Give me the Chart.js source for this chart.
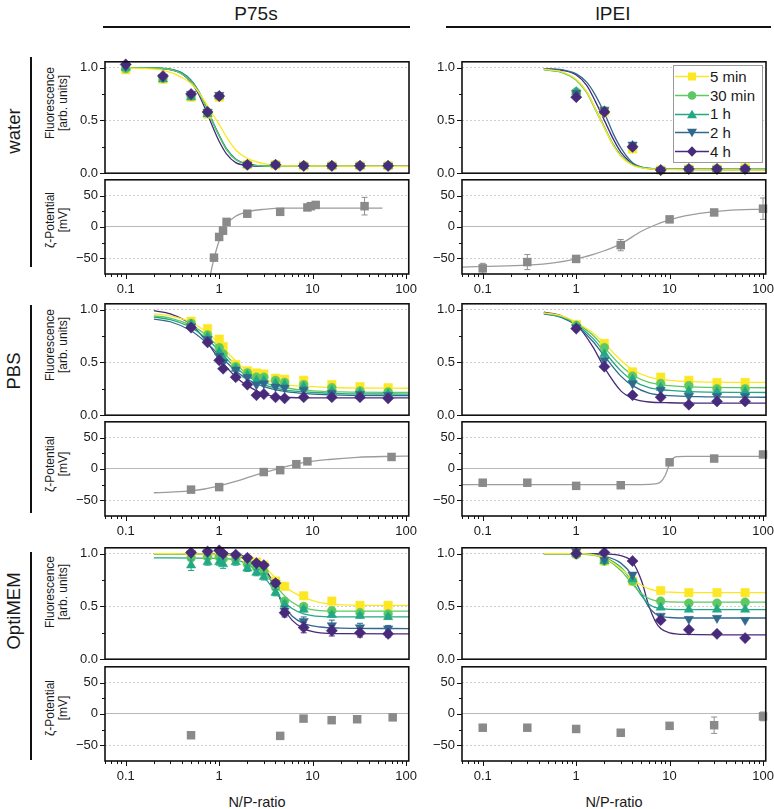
<!DOCTYPE html>
<html>
<head>
<meta charset="utf-8">
<title>Fluorescence and zeta potential vs N/P-ratio</title>
<script src="https://cdn.jsdelivr.net/npm/chart.js@4.4.1/dist/chart.umd.min.js"></script>
<style>
  html, body { margin: 0; padding: 0; background: #fff; }
  #fig { position: relative; width: 774px; height: 809px; overflow: hidden;
         font-family: "Liberation Sans", Arial, sans-serif; color: #1a1a1a; }
  #fig canvas { position: absolute; }
  .hdr { position: absolute; font-size: 19px; transform: translateX(-50%); white-space: nowrap; }
  .hline { position: absolute; height: 2px; background: #111; }
  .vline { position: absolute; width: 2px; background: #111; }
  .rot { position: absolute; transform: translate(-50%, -50%) rotate(-90deg); white-space: nowrap; text-align: center; }
  .rowlab { font-size: 18.5px; }
  .axlab { font-size: 12px; line-height: 13px; }
  .xlab { position: absolute; font-size: 14.5px; transform: translate(-50%, -50%); white-space: nowrap; }
  #legend { position: absolute; left: 673px; top: 65px; width: 88px; height: 95px;
            border: 1px solid #9a9a9a; background: #fff; z-index: 5; padding-top: 1px; box-sizing: content-box; }
  #legend .item { display: flex; align-items: center; height: 18.8px; font-size: 15px; }
  #legend svg { margin-left: 1px; margin-right: 1px; }
</style>
</head>
<body>
<div id="fig">
  <div class="hdr" style="left:256px; top:3px;">P75s</div>
  <div class="hdr" style="left:613px; top:3px;">lPEI</div>
  <div class="hline" style="left:103px; top:26px; width:307px;"></div>
  <div class="hline" style="left:446px; top:26px; width:325px;"></div>

  <div class="vline" style="left:30px; top:57px; height:210px;"></div>
  <div class="vline" style="left:30px; top:305px; height:208px;"></div>
  <div class="vline" style="left:30px; top:552px; height:208px;"></div>
  <div class="rot rowlab" style="left:14px; top:131px;">water</div>
  <div class="rot rowlab" style="left:14px; top:371px;">PBS</div>
  <div class="rot rowlab" style="left:14px; top:611px;">OptiMEM</div>

  <div class="rot axlab" style="left:57px; top:103px;">Fluorescence<br>[arb. units]</div>
  <div class="rot axlab" style="left:57px; top:345px;">Fluorescence<br>[arb. units]</div>
  <div class="rot axlab" style="left:57px; top:592px;">Fluorescence<br>[arb. units]</div>
  <div class="rot axlab" style="left:57px; top:220px;">&zeta;-Potential<br>[mV]</div>
  <div class="rot axlab" style="left:57px; top:464px;">&zeta;-Potential<br>[mV]</div>
  <div class="rot axlab" style="left:57px; top:708px;">&zeta;-Potential<br>[mV]</div>

  <div class="xlab" style="left:257px; top:802px;">N/P-ratio</div>
  <div class="xlab" style="left:614px; top:802px;">N/P-ratio</div>

  <div id="legend"></div>
</div>

<script>
// ---- series / axes ----
const seriesNames = ['5 min', '30 min', '1 h', '2 h', '4 h'];
const seriesColors = ['#fde725', '#5ec962', '#22a884', '#31688e', '#472a7a'];
const seriesShapes = ['rect', 'circle', 'triangle', 'triangle', 'rectRot'];
const seriesRotation = [0, 0, 0, 180, 0];
const seriesRadius = [6, 4.4, 5.4, 5.4, 5.6];
const zetaColor = '#8a8a8a';
const zetaFitColor = '#9c9c9c';

const xMin = 0.06;
const xMax = 107;
const xMajorTicks = [0.1, 1, 10, 100];
const fluorTicks = [0, 0.25, 0.5, 0.75, 1.0];
const fluorLabels = [0, 0.5, 1.0];
const zetaTicks = [-50, -25, 0, 25, 50];
const zetaLabels = [-50, 0, 50];

// ---- water, P75s ----
const waterP75sX = [0.1, 0.25, 0.5, 0.75, 1, 2, 4, 8, 16, 32, 64];
const waterP75s5min = [0.98, 0.89, 0.72, 0.56, 0.72, 0.08, 0.08, 0.07, 0.07, 0.07, 0.07];
const waterP75s30min = [0.99, 0.9, 0.73, 0.57, 0.73, 0.08, 0.08, 0.07, 0.07, 0.07, 0.07];
const waterP75s1h = [1.0, 0.89, 0.72, 0.56, 0.73, 0.08, 0.08, 0.07, 0.07, 0.07, 0.07];
const waterP75s2h = [1.01, 0.91, 0.75, 0.58, 0.74, 0.08, 0.08, 0.07, 0.07, 0.07, 0.07];
const waterP75s4h = [1.03, 0.92, 0.75, 0.58, 0.73, 0.08, 0.08, 0.07, 0.07, 0.07, 0.07];
const waterP75sFitX = [0.1, 0.2, 0.3, 0.4, 0.5, 0.6, 0.7, 0.85, 1, 1.2, 1.5, 2, 3, 5, 110];
const waterP75sFit5min = [0.995, 0.985, 0.955, 0.905, 0.85, 0.77, 0.68, 0.56, 0.46, 0.34, 0.22, 0.14, 0.09, 0.07, 0.065];
const waterP75sFit30min = [1.0, 0.995, 0.98, 0.94, 0.87, 0.77, 0.65, 0.48, 0.35, 0.22, 0.13, 0.085, 0.068, 0.065, 0.065];
const waterP75sFit1h = [1.0, 0.996, 0.982, 0.945, 0.875, 0.775, 0.655, 0.485, 0.355, 0.225, 0.13, 0.085, 0.068, 0.065, 0.065];
const waterP75sFit2h = [1.0, 0.997, 0.985, 0.95, 0.88, 0.78, 0.66, 0.49, 0.36, 0.23, 0.135, 0.085, 0.068, 0.065, 0.065];
const waterP75sFit4h = [1.0, 0.996, 0.98, 0.94, 0.86, 0.75, 0.62, 0.44, 0.3, 0.18, 0.1, 0.072, 0.065, 0.065, 0.065];
const waterP75sZetaX = [0.88, 1.0, 1.1, 1.2, 2, 4.5, 8.8, 9.6, 10.8, 36];
const waterP75sZeta = [-49, -16, -6, 8, 21, 24, 31, 33, 35, 33];
const waterP75sZetaErr = [0, 3, 6, 3, 2, 2, 2, 2, 2, 14];
const waterP75sZetaFitX = [0.8, 0.85, 0.9, 1.0, 1.1, 1.2, 1.5, 2, 3, 5, 10, 56];
const waterP75sZetaFit = [-78, -60, -45, -22, -7, 4, 17, 24, 28, 30, 30, 30];

// ---- water, lPEI ----
const waterPEIX = [1, 2, 4, 8, 16, 32, 64];
const waterPEI5min = [0.75, 0.58, 0.23, 0.03, 0.04, 0.04, 0.05];
const waterPEI30min = [0.77, 0.59, 0.25, 0.03, 0.04, 0.04, 0.04];
const waterPEI1h = [0.77, 0.59, 0.26, 0.03, 0.04, 0.04, 0.04];
const waterPEI2h = [0.76, 0.6, 0.27, 0.03, 0.04, 0.04, 0.04];
const waterPEI4h = [0.72, 0.58, 0.25, 0.03, 0.04, 0.04, 0.04];
const waterPEIFitX = [0.45, 0.7, 1, 1.3, 1.6, 2, 2.5, 3, 4, 6, 10, 110];
const waterPEIFit5min = [0.985, 0.96, 0.89, 0.77, 0.61, 0.43, 0.26, 0.16, 0.075, 0.04, 0.033, 0.03];
const waterPEIFit30min = [0.98, 0.955, 0.88, 0.76, 0.6, 0.43, 0.26, 0.165, 0.08, 0.045, 0.037, 0.035];
const waterPEIFit1h = [0.98, 0.955, 0.885, 0.765, 0.61, 0.44, 0.27, 0.17, 0.08, 0.045, 0.037, 0.035];
const waterPEIFit2h = [0.99, 0.98, 0.94, 0.86, 0.74, 0.57, 0.37, 0.24, 0.1, 0.045, 0.037, 0.035];
const waterPEIFit4h = [0.99, 0.975, 0.93, 0.83, 0.68, 0.5, 0.32, 0.2, 0.09, 0.043, 0.037, 0.035];
const waterPEIZetaX = [0.1, 0.3, 1, 3, 10, 30, 100];
const waterPEIZeta = [-66, -56, -51, -29, 12, 23, 29];
const waterPEIZetaErr = [8, 12, 2, 9, 2, 2, 17];
const waterPEIZetaFitX = [0.06, 0.1, 0.3, 0.6, 1, 1.5, 2, 3, 5, 7, 10, 15, 20, 40, 110];
const waterPEIZetaFit = [-64, -63, -61, -57, -51, -44, -38, -27, -7, 3, 11, 18, 21, 26, 28.5];

// ---- PBS, P75s ----
const pbsP75sX = [0.5, 0.75, 1, 1.1, 1.5, 2, 2.5, 3, 4, 5, 8, 16, 32, 64];
const pbsP75s5min = [0.89, 0.82, 0.72, 0.65, 0.48, 0.42, 0.4, 0.39, 0.35, 0.34, 0.33, 0.29, 0.27, 0.26];
const pbsP75s30min = [0.87, 0.76, 0.64, 0.58, 0.46, 0.4, 0.36, 0.36, 0.33, 0.31, 0.29, 0.26, 0.23, 0.22];
const pbsP75s1h = [0.86, 0.74, 0.6, 0.54, 0.44, 0.38, 0.33, 0.33, 0.3, 0.29, 0.27, 0.23, 0.21, 0.2];
const pbsP75s2h = [0.84, 0.72, 0.56, 0.5, 0.43, 0.36, 0.29, 0.3, 0.27, 0.26, 0.24, 0.21, 0.2, 0.19];
const pbsP75s4h = [0.83, 0.69, 0.52, 0.44, 0.36, 0.29, 0.19, 0.2, 0.17, 0.16, 0.17, 0.17, 0.17, 0.16];
const pbsP75sFitX = [0.2, 0.3, 0.5, 0.7, 1, 1.3, 1.6, 2, 3, 5, 10, 20, 110];
const pbsP75sFit5min = [0.96, 0.94, 0.88, 0.8, 0.68, 0.57, 0.49, 0.42, 0.34, 0.29, 0.27, 0.26, 0.255];
const pbsP75sFit30min = [0.94, 0.92, 0.85, 0.77, 0.64, 0.53, 0.46, 0.39, 0.31, 0.26, 0.23, 0.22, 0.215];
const pbsP75sFit1h = [0.93, 0.905, 0.83, 0.74, 0.61, 0.5, 0.43, 0.37, 0.29, 0.24, 0.215, 0.205, 0.2];
const pbsP75sFit2h = [0.91, 0.885, 0.8, 0.7, 0.57, 0.47, 0.4, 0.34, 0.27, 0.225, 0.2, 0.19, 0.185];
const pbsP75sFit4h = [0.99, 0.96, 0.86, 0.72, 0.53, 0.42, 0.34, 0.28, 0.2, 0.17, 0.165, 0.165, 0.165];
const pbsP75sZetaX = [0.5, 1, 3, 4.5, 6.7, 8.8, 70];
const pbsP75sZeta = [-33, -29, -5, -2, 7.5, 12, 19];
const pbsP75sZetaErr = [2, 2, 2, 2, 2, 2, 2];
const pbsP75sZetaFitX = [0.2, 0.3, 0.5, 0.7, 1, 1.5, 2, 3, 5, 8, 15, 30, 70, 110];
const pbsP75sZetaFit = [-38, -37, -35, -32, -27, -20, -14, -6, 3, 10, 15, 18.5, 20, 20.5];

// ---- PBS, lPEI ----
const pbsPEIX = [1, 2, 4, 8, 16, 32, 64];
const pbsPEI5min = [0.86, 0.68, 0.41, 0.36, 0.33, 0.31, 0.31];
const pbsPEI30min = [0.85, 0.64, 0.37, 0.3, 0.28, 0.25, 0.25];
const pbsPEI1h = [0.84, 0.58, 0.34, 0.26, 0.23, 0.22, 0.22];
const pbsPEI2h = [0.83, 0.52, 0.3, 0.24, 0.18, 0.18, 0.18];
const pbsPEI4h = [0.82, 0.46, 0.19, 0.17, 0.1, 0.13, 0.13];
const pbsPEIFitX = [0.45, 0.7, 1, 1.5, 2, 3, 4, 6, 10, 20, 110];
const pbsPEIFit5min = [0.97, 0.94, 0.88, 0.78, 0.68, 0.52, 0.43, 0.36, 0.33, 0.315, 0.31];
const pbsPEIFit30min = [0.97, 0.935, 0.87, 0.76, 0.64, 0.47, 0.38, 0.31, 0.28, 0.265, 0.26];
const pbsPEIFit1h = [0.965, 0.93, 0.86, 0.73, 0.6, 0.42, 0.33, 0.26, 0.235, 0.22, 0.215];
const pbsPEIFit2h = [0.96, 0.925, 0.85, 0.7, 0.56, 0.37, 0.28, 0.21, 0.185, 0.175, 0.17];
const pbsPEIFit4h = [0.975, 0.94, 0.86, 0.65, 0.45, 0.23, 0.16, 0.125, 0.118, 0.115, 0.115];
const pbsPEIZetaX = [0.1, 0.3, 1, 3, 10, 30, 100];
const pbsPEIZeta = [-22, -22, -27, -26, 10.5, 16.5, 23];
const pbsPEIZetaErr = [2, 2, 2, 2, 3, 2, 2];
const pbsPEIZetaFitX = [0.06, 1, 5, 7, 8, 9, 9.5, 10, 10.5, 11, 12, 15, 110];
const pbsPEIZetaFit = [-25, -25, -25, -24, -21, -10, -1, 8, 14, 17.5, 19.5, 20, 20];

// ---- OptiMEM, P75s ----
const optiP75sX = [0.5, 0.75, 1, 1.1, 1.5, 2, 2.5, 3, 4, 5, 8, 16, 32, 64];
const optiP75s5min = [0.99, 0.98, 0.98, 0.97, 0.96, 0.94, 0.92, 0.89, 0.74, 0.69, 0.6, 0.55, 0.51, 0.51];
const optiP75s30min = [0.96, 0.97, 0.97, 0.95, 0.95, 0.9, 0.87, 0.83, 0.68, 0.55, 0.5, 0.46, 0.44, 0.43];
const optiP75s1h = [0.89, 0.92, 0.92, 0.9, 0.92, 0.86, 0.82, 0.78, 0.63, 0.52, 0.47, 0.42, 0.41, 0.4];
const optiP75s2h = [1.0, 1.01, 1.02, 0.99, 0.98, 0.95, 0.9, 0.88, 0.72, 0.46, 0.36, 0.32, 0.3, 0.29];
const optiP75s4h = [1.01, 1.02, 1.03, 1.0, 0.99, 0.96, 0.91, 0.89, 0.72, 0.44, 0.3, 0.27, 0.25, 0.24];
const optiP75sErr1h = [0.05, 0.03, 0.03, 0.04, 0.03, 0.03, 0.03, 0.03, 0.03, 0.03, 0.02, 0.02, 0.02, 0.02];
const optiP75sErr2h = [0.02, 0.02, 0.02, 0.02, 0.02, 0.02, 0.02, 0.02, 0.03, 0.04, 0.04, 0.05, 0.04, 0.03];
const optiP75sErr4h = [0.02, 0.02, 0.02, 0.02, 0.02, 0.02, 0.02, 0.02, 0.03, 0.04, 0.05, 0.05, 0.04, 0.03];
const optiP75sFitX = [0.2, 1, 1.5, 2, 2.5, 3, 4, 5, 6, 8, 12, 20, 110];
const optiP75sFit5min = [1.0, 0.995, 0.985, 0.96, 0.93, 0.88, 0.77, 0.69, 0.64, 0.585, 0.535, 0.515, 0.51];
const optiP75sFit30min = [0.995, 0.99, 0.975, 0.94, 0.89, 0.83, 0.7, 0.6, 0.54, 0.485, 0.46, 0.455, 0.455];
const optiP75sFit1h = [0.96, 0.955, 0.94, 0.9, 0.84, 0.78, 0.64, 0.54, 0.48, 0.43, 0.405, 0.4, 0.4];
const optiP75sFit2h = [1.0, 0.995, 0.985, 0.96, 0.91, 0.85, 0.66, 0.5, 0.41, 0.34, 0.305, 0.295, 0.29];
const optiP75sFit4h = [1.0, 0.997, 0.99, 0.97, 0.93, 0.87, 0.68, 0.47, 0.37, 0.29, 0.25, 0.242, 0.24];
const optiP75sZetaX = [0.5, 4.5, 8, 16, 30, 72];
const optiP75sZeta = [-34, -35, -7.5, -10, -8.5, -5.5];
const optiP75sZetaErr = [2, 2, 2, 2, 2, 2];

// ---- OptiMEM, lPEI ----
const optiPEIX = [1, 2, 4, 8, 16, 32, 64];
const optiPEI5min = [1.0, 0.93, 0.74, 0.65, 0.63, 0.63, 0.63];
const optiPEI30min = [0.99, 0.93, 0.74, 0.55, 0.53, 0.53, 0.54];
const optiPEI1h = [1.0, 0.93, 0.76, 0.49, 0.47, 0.47, 0.47];
const optiPEI2h = [1.02, 0.94, 0.8, 0.41, 0.38, 0.39, 0.37];
const optiPEI4h = [1.0, 1.01, 0.93, 0.37, 0.28, 0.24, 0.2];
const optiPEIFitX = [0.45, 1, 1.5, 2, 3, 4, 5, 6, 7, 8, 10, 15, 110];
const optiPEIFit5min = [1.0, 1.0, 0.99, 0.96, 0.86, 0.76, 0.7, 0.665, 0.65, 0.64, 0.635, 0.63, 0.63];
const optiPEIFit30min = [1.0, 0.998, 0.985, 0.955, 0.84, 0.71, 0.62, 0.575, 0.555, 0.547, 0.542, 0.54, 0.54];
const optiPEIFit1h = [1.0, 1.0, 0.99, 0.965, 0.87, 0.73, 0.6, 0.52, 0.49, 0.478, 0.472, 0.47, 0.47];
const optiPEIFit2h = [1.0, 1.0, 0.995, 0.975, 0.91, 0.79, 0.62, 0.49, 0.43, 0.405, 0.395, 0.39, 0.39];
const optiPEIFit4h = [1.0, 1.0, 1.0, 0.997, 0.98, 0.92, 0.74, 0.5, 0.36, 0.29, 0.25, 0.235, 0.23];
const optiPEIZetaX = [0.1, 0.3, 1, 3, 10, 30, 100];
const optiPEIZeta = [-22, -22, -24, -30, -19, -18, -4];
const optiPEIZetaErr = [1, 1, 1, 1, 1, 13, 7];

// ---- plotting helpers ----
const fig = document.getElementById('fig');
const tickColor = '#1a1a1a';
const yAxisW = 42;
const plotW = 304;
const padTop = 8, padRight = 16, padBottom = 8, xAxisH = 24;
const fluorH = 111, zetaH = 94;
const colLeft = [105, 462];
const fluorTop = [62, 304, 548];
const zetaTop = [180, 422, 667];

Chart.defaults.font.family = "'Liberation Sans', Arial, sans-serif";

function logTicks() {
    const out = [];
    for (let e = -2; e <= 2; e++) {
        for (let m = 1; m <= 9; m++) {
            const v = +(m * Math.pow(10, e)).toPrecision(6);
            if (v >= xMin && v <= xMax) out.push({ value: v, major: xMajorTicks.includes(v) });
        }
    }
    return out;
}

// frame around the plot area plus outward tick marks (long for labelled ticks)
const framePlugin = {
    id: 'frame',
    afterDraw(chart) {
        const { ctx, chartArea: a, scales } = chart;
        ctx.save();
        ctx.strokeStyle = '#111';
        ctx.lineWidth = 1;
        ctx.beginPath();
        scales.y.ticks.forEach((t) => {
            const py = Math.round(scales.y.getPixelForValue(t.value)) + 0.5;
            const len = t.major ? 5 : 3;
            ctx.moveTo(a.left - len, py);
            ctx.lineTo(a.left, py);
        });
        if (scales.x.options.display) {
            scales.x.ticks.forEach((t) => {
                const px = Math.round(scales.x.getPixelForValue(t.value)) + 0.5;
                const len = t.major ? 5 : 3;
                ctx.moveTo(px, a.bottom);
                ctx.lineTo(px, a.bottom + len);
            });
        }
        ctx.stroke();
        ctx.lineWidth = 1.6;
        ctx.strokeRect(a.left, a.top, a.right - a.left, a.bottom - a.top);
        ctx.restore();
    }
};

// vertical error bars with caps, drawn under the markers of their dataset
const errorBarPlugin = {
    id: 'errorBars',
    beforeDatasetDraw(chart, args) {
        const ds = chart.data.datasets[args.index];
        if (!ds.errors) return;
        const y = chart.scales.y;
        const ctx = chart.ctx;
        ctx.save();
        ctx.strokeStyle = ds.errorColor || ds.borderColor;
        ctx.lineWidth = 1;
        ctx.beginPath();
        args.meta.data.forEach((pt, i) => {
            const e = ds.errors[i];
            if (!e) return;
            const v = ds.data[i].y;
            const top = y.getPixelForValue(v + e);
            const bot = y.getPixelForValue(v - e);
            ctx.moveTo(pt.x, top); ctx.lineTo(pt.x, bot);
            ctx.moveTo(pt.x - 3, top); ctx.lineTo(pt.x + 3, top);
            ctx.moveTo(pt.x - 3, bot); ctx.lineTo(pt.x + 3, bot);
        });
        ctx.stroke();
        ctx.restore();
    }
};

function xScale(showLabels) {
    const opts = {
        type: 'logarithmic',
        min: xMin,
        max: xMax,
        display: showLabels,
        afterBuildTicks: (s) => { s.ticks = logTicks(); },
        grid: { display: false, drawTicks: false },
        border: { display: false },
        ticks: {
            autoSkip: false, maxRotation: 0, padding: 8, color: tickColor, font: { size: 13 },
            callback: (v, i, ts) => (ts[i].major ? String(v) : '')
        }
    };
    if (showLabels) opts.afterFit = (s) => { s.height = xAxisH; };
    return opts;
}

function yScale(min, max, tickVals, labelVals, fmt, zeroSolid) {
    return {
        min: min,
        max: max,
        afterBuildTicks: (s) => { s.ticks = tickVals.map((v) => ({ value: v, major: labelVals.includes(v) })); },
        afterFit: (s) => { s.width = yAxisW; },
        grid: {
            drawTicks: false,
            lineWidth: 1,
            color: (c) => {
                if (!c.tick || !c.tick.major || c.tick.value === min) return 'rgba(0,0,0,0)';
                if (zeroSolid && c.tick.value === 0) return '#b8b8b8';
                return '#cfcfcf';
            }
        },
        border: { display: false, dash: (c) => (zeroSolid && c.tick && c.tick.value === 0 ? [] : [2, 2]) },
        ticks: {
            padding: 7, color: tickColor, font: { size: 13 },
            callback: (v, i, ts) => (ts[i].major ? fmt(v) : '')
        }
    };
}

function pointsDataset(xs, ys, k, errs) {
    return {
        data: xs.map((x, i) => ({ x: x, y: ys[i] })),
        showLine: false,
        pointStyle: seriesShapes[k],
        pointRotation: seriesRotation[k],
        pointRadius: seriesRadius[k],
        pointBorderWidth: 0.5,
        backgroundColor: seriesColors[k],
        borderColor: seriesColors[k],
        errors: errs || null,
        clip: false,
        order: 5 - k
    };
}

function fitDataset(xs, ys, color) {
    return {
        data: xs.map((x, i) => ({ x: x, y: ys[i] })),
        borderColor: color,
        borderWidth: 1.3,
        pointRadius: 0,
        cubicInterpolationMode: 'monotone',
        order: 10
    };
}

// builds one panel and shifts / resizes its canvas so the plot area lands on the target box
function makeChart(plotLeft, plotTop, plotH, datasets, yOpts, showX) {
    const w = yAxisW + plotW + padRight;
    const h = padTop + plotH + (showX ? xAxisH : padBottom);
    const c = document.createElement('canvas');
    c.width = w; c.height = h;
    c.style.width = w + 'px'; c.style.height = h + 'px';
    fig.appendChild(c);
    const chart = new Chart(c, {
        type: 'line',
        data: { datasets: datasets },
        options: {
            responsive: false,
            maintainAspectRatio: false,
            animation: false,
            devicePixelRatio: 1,
            events: [],
            layout: { padding: { top: padTop, right: padRight, bottom: showX ? 0 : padBottom, left: 0 } },
            plugins: { legend: { display: false }, tooltip: { enabled: false } },
            scales: { x: xScale(showX), y: yOpts }
        },
        plugins: [errorBarPlugin, framePlugin]
    });
    const ca = chart.chartArea;
    const dh = Math.round(plotH - (ca.bottom - ca.top));
    const dw = Math.round(plotW - (ca.right - ca.left));
    if (dh !== 0 || dw !== 0) chart.resize(w + dw, h + dh);
    const ca2 = chart.chartArea;
    c.style.left = (plotLeft - ca2.left) + 'px';
    c.style.top = (plotTop - ca2.top) + 'px';
}

function fluorPanel(col, row, xs, series, fitX, fits, errs) {
    const ds = [];
    fits.forEach((f, k) => ds.push(fitDataset(fitX, f, seriesColors[k])));
    series.forEach((s, k) => ds.push(pointsDataset(xs, s, k, errs ? errs[k] : null)));
    makeChart(colLeft[col], fluorTop[row], fluorH, ds,
        yScale(0, 1.055, fluorTicks, fluorLabels, (v) => v.toFixed(1), false), false);
}

function zetaPanel(col, row, xs, ys, errs, fitX, fitY) {
    const ds = [];
    if (fitX) ds.push(fitDataset(fitX, fitY, zetaFitColor));
    ds.push({
        data: xs.map((x, i) => ({ x: x, y: ys[i] })),
        showLine: false,
        pointStyle: 'rect',
        pointRadius: 6,
        pointBorderWidth: 0,
        backgroundColor: zetaColor,
        borderColor: zetaColor,
        errors: errs,
        errorColor: '#8f8f8f',
        clip: false,
        order: 1
    });
    makeChart(colLeft[col], zetaTop[row], zetaH, ds,
        yScale(-75, 75, zetaTicks, zetaLabels, (v) => (v < 0 ? '\u2212' + Math.abs(v) : String(v)), true), true);
}

// water
fluorPanel(0, 0, waterP75sX,
    [waterP75s5min, waterP75s30min, waterP75s1h, waterP75s2h, waterP75s4h], waterP75sFitX,
    [waterP75sFit5min, waterP75sFit30min, waterP75sFit1h, waterP75sFit2h, waterP75sFit4h]);
zetaPanel(0, 0, waterP75sZetaX, waterP75sZeta, waterP75sZetaErr, waterP75sZetaFitX, waterP75sZetaFit);
fluorPanel(1, 0, waterPEIX,
    [waterPEI5min, waterPEI30min, waterPEI1h, waterPEI2h, waterPEI4h], waterPEIFitX,
    [waterPEIFit5min, waterPEIFit30min, waterPEIFit1h, waterPEIFit2h, waterPEIFit4h]);
zetaPanel(1, 0, waterPEIZetaX, waterPEIZeta, waterPEIZetaErr, waterPEIZetaFitX, waterPEIZetaFit);

// PBS
fluorPanel(0, 1, pbsP75sX,
    [pbsP75s5min, pbsP75s30min, pbsP75s1h, pbsP75s2h, pbsP75s4h], pbsP75sFitX,
    [pbsP75sFit5min, pbsP75sFit30min, pbsP75sFit1h, pbsP75sFit2h, pbsP75sFit4h]);
zetaPanel(0, 1, pbsP75sZetaX, pbsP75sZeta, pbsP75sZetaErr, pbsP75sZetaFitX, pbsP75sZetaFit);
fluorPanel(1, 1, pbsPEIX,
    [pbsPEI5min, pbsPEI30min, pbsPEI1h, pbsPEI2h, pbsPEI4h], pbsPEIFitX,
    [pbsPEIFit5min, pbsPEIFit30min, pbsPEIFit1h, pbsPEIFit2h, pbsPEIFit4h]);
zetaPanel(1, 1, pbsPEIZetaX, pbsPEIZeta, pbsPEIZetaErr, pbsPEIZetaFitX, pbsPEIZetaFit);

// OptiMEM
fluorPanel(0, 2, optiP75sX,
    [optiP75s5min, optiP75s30min, optiP75s1h, optiP75s2h, optiP75s4h], optiP75sFitX,
    [optiP75sFit5min, optiP75sFit30min, optiP75sFit1h, optiP75sFit2h, optiP75sFit4h],
    [null, null, optiP75sErr1h, optiP75sErr2h, optiP75sErr4h]);
zetaPanel(0, 2, optiP75sZetaX, optiP75sZeta, optiP75sZetaErr, null, null);
fluorPanel(1, 2, optiPEIX,
    [optiPEI5min, optiPEI30min, optiPEI1h, optiPEI2h, optiPEI4h], optiPEIFitX,
    [optiPEIFit5min, optiPEIFit30min, optiPEIFit1h, optiPEIFit2h, optiPEIFit4h]);
zetaPanel(1, 2, optiPEIZetaX, optiPEIZeta, optiPEIZetaErr, null, null);

// legend (line + marker, like the reference)
function markerSvg(k) {
    const c = seriesColors[k];
    let shape;
    if (seriesShapes[k] === 'rect') shape = `<rect x="13" y="5.5" width="8" height="8" fill="${c}"/>`;
    else if (seriesShapes[k] === 'circle') shape = `<circle cx="17" cy="9.5" r="4.3" fill="${c}"/>`;
    else if (seriesShapes[k] === 'rectRot') shape = `<polygon points="17,4.3 22,9.5 17,14.7 12,9.5" fill="${c}"/>`;
    else if (seriesRotation[k] === 180) shape = `<polygon points="12,5.8 22,5.8 17,14.3" fill="${c}"/>`;
    else shape = `<polygon points="17,4.7 22,13.2 12,13.2" fill="${c}"/>`;
    return `<svg width="34" height="19" viewBox="0 0 34 19"><line x1="0" y1="9.5" x2="34" y2="9.5" stroke="${c}" stroke-width="1.3"/>${shape}</svg>`;
}
const legend = document.getElementById('legend');
seriesNames.forEach((name, k) => {
    const item = document.createElement('div');
    item.className = 'item';
    item.innerHTML = markerSvg(k) + `<span>${name}</span>`;
    legend.appendChild(item);
});
</script>
</body>
</html>
